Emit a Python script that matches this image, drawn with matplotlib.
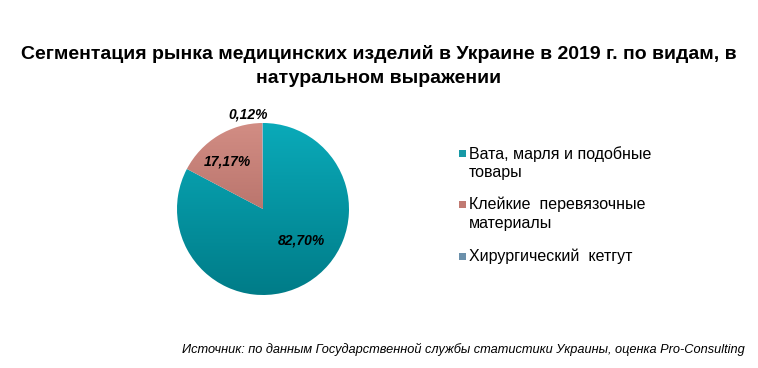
import numpy as np
import matplotlib.pyplot as plt
from matplotlib.patches import Wedge, Rectangle
from matplotlib.colors import LinearSegmentedColormap

plt.rcParams['font.family'] = ['Liberation Sans', 'DejaVu Sans']

title = "Сегментация рынка медицинских изделий в Украине в 2019 г. по видам, в\nнатуральном выражении"
categories = ["Вата, марля и подобные\nтовары",
              "Клейкие  перевязочные\nматериалы",
              "Хирургический  кетгут"]
shares = [82.70, 17.17, 0.12]
labels = ["82,70%", "17,17%", "0,12%"]
source = "Источник: по данным Государственной службы статистики Украины, оценка Pro-Consulting"

# gradient top/bottom colours per slice, plus legend colour
grad = [("#0aaab9", "#007c88"), ("#d28d84", "#a35e57"), ("#7fa3bd", "#4f7896")]
legend_colors = ["#1799a6", "#c17a72", "#6b90ab"]

W, H, dpi = 758, 368, 100
fig = plt.figure(figsize=(W / dpi, H / dpi), dpi=dpi)
fig.patch.set_facecolor("white")

fig.text(379 / W, 1 - 66 / H, title, ha="center", va="center",
         fontsize=14, fontweight="bold", linespacing=1.55)

# pie axes: centre (263, 209) px, radius 86 px
cx, cy, r, half = 263, 209, 86, 110
ax = fig.add_axes([(cx - half) / W, (H - cy - half) / H, 2 * half / W, 2 * half / H])
lim = half / r
ax.set_xlim(-lim, lim)
ax.set_ylim(-lim, lim)
ax.set_aspect("equal")
ax.axis("off")

total = sum(shares)
start = 90.0
for i, v in enumerate(shares):
    span = v / total * 360
    theta1, theta2 = start - span, start
    w = Wedge((0, 0), 1, theta1, theta2, facecolor="none", edgecolor="none")
    ax.add_patch(w)
    cmap = LinearSegmentedColormap.from_list("g%d" % i, [grad[i][1], grad[i][0]])
    img = ax.imshow(np.linspace(0, 1, 256).reshape(-1, 1), cmap=cmap, origin="lower",
                    extent=[-1, 1, -1, 1], aspect="auto", interpolation="bilinear")
    img.set_clip_path(w)
    start = theta1

# data labels
label_pos = [(0.45, -0.37), (-0.41, 0.55), (-0.17, 1.1)]
for (x, y), t in zip(label_pos, labels):
    ax.text(x, y, t, ha="center", va="center", fontsize=10,
            fontweight="bold", fontstyle="italic")
ax.set_xlim(-lim, lim)
ax.set_ylim(-lim, lim)

# legend
leg_y = [153, 204, 256]
for c, lab, y in zip(legend_colors, categories, leg_y):
    fig.patches.append(Rectangle((459 / W, 1 - (y + 4) / H), 7 / W, 7 / H,
                                 transform=fig.transFigure, facecolor=c,
                                 edgecolor="none"))
    fig.text(469 / W, 1 - (y - 7) / H, lab, ha="left", va="top",
             fontsize=11.5, linespacing=1.3)

fig.text(745 / W, 1 - 349 / H, source, ha="right", va="center",
         fontsize=9.2, fontstyle="italic")

fig.savefig("out.png", dpi=dpi)
